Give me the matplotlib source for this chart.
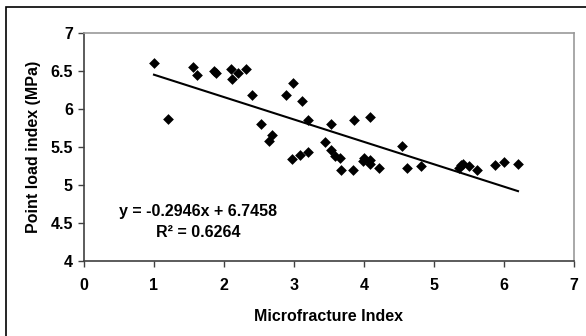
import matplotlib
matplotlib.use("Agg")
import matplotlib.pyplot as plt
import numpy as np
from matplotlib.patches import Rectangle

# Data
micro_index = [
    1.00, 1.20, 1.55, 1.62, 1.86, 1.89, 2.10, 2.12, 2.20, 2.31,
    2.40, 2.53, 2.64, 2.68, 2.88, 2.99, 2.97, 3.09, 3.11, 3.20,
    3.20, 3.44, 3.53, 3.53, 3.59, 3.66, 3.67, 3.84, 3.86, 3.98,
    4.00, 4.08, 4.09, 4.09, 4.21, 4.54, 4.62, 4.81, 5.35, 5.39,
    5.42, 5.50, 5.62, 5.87, 6.00, 6.20,
]
point_load = [
    6.60, 5.87, 6.55, 6.45, 6.50, 6.47, 6.53, 6.39, 6.47, 6.52,
    6.18, 5.80, 5.58, 5.66, 6.19, 6.34, 5.34, 5.39, 6.10, 5.85,
    5.44, 5.56, 5.80, 5.46, 5.38, 5.36, 5.20, 5.20, 5.86, 5.32,
    5.36, 5.33, 5.28, 5.90, 5.23, 5.51, 5.23, 5.25, 5.22, 5.26,
    5.28, 5.25, 5.20, 5.26, 5.30, 5.28,
]
slope = -0.2946
intercept = 6.7458
r_squared = 0.6264

FS = 11.5

plt.rcParams["font.family"] = ["Liberation Sans", "DejaVu Sans"]
plt.rcParams["font.weight"] = "bold"

fig = plt.figure(figsize=(5.86, 3.36), dpi=100)
# outer chart-area frame (right/bottom edges run off the image)
fig.patches.append(Rectangle((6 / 586, -0.05), 1.2, 1 - 7 / 336 + 0.05,
                             transform=fig.transFigure, fill=False,
                             edgecolor="black", linewidth=1.2))

ax = fig.add_axes([84 / 586, 1 - 261 / 336, 490 / 586, 228 / 336])

ax.scatter(micro_index, point_load, marker="D", s=30, color="black",
           linewidths=0, zorder=3)

x_fit = np.array([min(micro_index), max(micro_index)])
ax.plot(x_fit, slope * x_fit + intercept, color="black", linewidth=1.5,
        zorder=2)

ax.set_xlim(0, 7)
ax.set_ylim(4, 7)
ax.set_xticks(range(0, 8))
ax.set_yticks([4, 4.5, 5, 5.5, 6, 6.5, 7])
ax.set_yticklabels(["4", "4.5", "5", "5.5", "6", "6.5", "7"])
ax.tick_params(direction="out", length=4, width=1, labelsize=FS,
               color="#404040")
ax.tick_params(axis="x", pad=8)
ax.tick_params(axis="y", pad=4)

for side in ("left", "bottom"):
    ax.spines[side].set_color("#404040")
    ax.spines[side].set_linewidth(1.2)
for side in ("top", "right"):
    ax.spines[side].set_color("#999999")
    ax.spines[side].set_linewidth(1.2)

ax.set_xlabel("Microfracture Index", fontsize=FS, fontweight="bold",
              labelpad=12)
ax.set_ylabel("Point load index (MPa)", fontsize=FS, fontweight="bold",
              labelpad=7)

ax.text(0.5, 4.65, f"y = {slope}x + {intercept}", fontsize=FS,
        fontweight="bold", va="center")
ax.text(1.03, 4.37, f"R\u00b2 = {r_squared}", fontsize=FS,
        fontweight="bold", va="center")

fig.savefig("out.png", dpi=100)
